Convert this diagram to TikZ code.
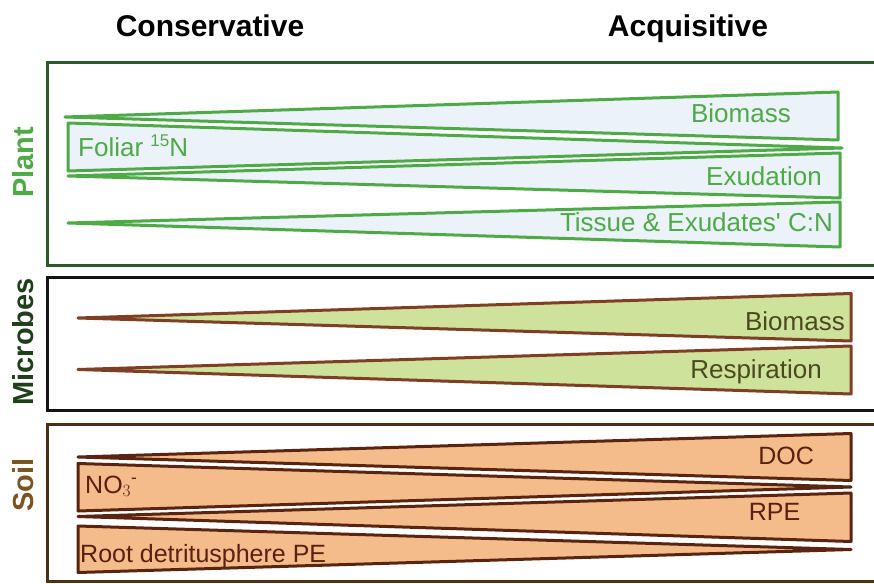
\documentclass[tikz,border=0pt]{standalone}
\usepackage{fontspec}
\setmainfont{Liberation Sans}
\definecolor{plantgreen}{HTML}{4DAA47}
\definecolor{plantdark}{HTML}{2E5A2B}
\definecolor{plantfill}{HTML}{EBF2F9}
\definecolor{microlabel}{HTML}{1F3F1A}
\definecolor{microbox}{HTML}{141414}
\definecolor{microfill}{HTML}{CEE29B}
\definecolor{microstroke}{HTML}{7E3F25}
\definecolor{microtext}{HTML}{4B4A1E}
\definecolor{soillabel}{HTML}{7A5522}
\definecolor{soilbox}{HTML}{4E2E14}
\definecolor{soilfill}{HTML}{F4BB8B}
\definecolor{soilstroke}{HTML}{5A2510}
\definecolor{soiltext}{HTML}{5A2010}
\tikzset{
  panelbox/.style={line width=3pt},
  plantwedge/.style={draw=plantgreen, fill=plantfill, line width=3pt, line join=round},
  microwedge/.style={draw=microstroke, fill=microfill, line width=3pt, line join=round},
  soilwedge/.style={draw=soilstroke, fill=soilfill, line width=3pt, line join=round},
  header/.style={font=\fontsize{30}{34}\selectfont\bfseries, anchor=base, inner sep=0pt},
  sidelabel/.style={font=\fontsize{29}{33}\selectfont\bfseries, rotate=90, anchor=base, inner sep=0pt},
  planttext/.style={font=\fontsize{26}{30}\selectfont, text=plantgreen, inner sep=0pt},
  microtxt/.style={font=\fontsize{26}{30}\selectfont, text=microtext, inner sep=0pt},
  soiltxt/.style={font=\fontsize{25}{29}\selectfont, text=soiltext, inner sep=0pt}
}
\begin{document}
\begin{tikzpicture}[x=1pt,y=-1pt]
\useasboundingbox[fill=white] (0,0) rectangle (874,583);
% panels
\begin{scope}
\clip (0,0) rectangle (874,583);
\draw[panelbox, draw=plantdark] (47,63) rectangle (900,265);
\draw[panelbox, draw=microbox] (47,277) rectangle (900,410);
\draw[panelbox, draw=soilbox] (47,424) rectangle (900,581);
\end{scope}
% headers
\node[header] (cons) at (210,36.5) {Conservative};
\node[header] (acq) at (688,36.5) {Acquisitive};
% side labels
\node[sidelabel, text=plantgreen] (plant) at (33.3,162.5) {Plant};
\node[sidelabel, text=microlabel] (microbes) at (33.3,341.7) {Microbes};
\node[sidelabel, text=soillabel] (soil) at (33.3,485) {Soil};
% plant wedges
\draw[plantwedge] (65,117) -- (838,92) -- (838,140) -- cycle;
\draw[plantwedge] (68,123) -- (842,148) -- (68,171) -- cycle;
\draw[plantwedge] (68,176) -- (840,153) -- (840,198) -- cycle;
\draw[plantwedge] (68,223) -- (840,202) -- (840,247) -- cycle;
\node[planttext, anchor=base east] (pbio) at (791,122.7) {Biomass};
\node[planttext, anchor=base west] (foliar) at (78,156) {Foliar {\fontsize{17}{20}\selectfont\raisebox{0.55em}{15}}N};
\node[planttext, anchor=base east] (exud) at (822,185) {Exudation};
\node[planttext, anchor=base east] (tissue) at (833,231.5) {Tissue \& Exudates\textquotesingle{} C:N};
% microbe wedges
\draw[microwedge] (78,318) -- (851,293.5) -- (851,341) -- cycle;
\draw[microwedge] (78,369.5) -- (851,346) -- (851,394) -- cycle;
\node[microtxt, anchor=base east] (mbio) at (845,330) {Biomass};
\node[microtxt, anchor=base east] (resp) at (822,378.5) {Respiration};
% soil wedges
\draw[soilwedge] (78,457) -- (851,433.5) -- (851,480.5) -- cycle;
\draw[soilwedge] (78,463.5) -- (851,487) -- (78,511) -- cycle;
\draw[soilwedge] (78,516.5) -- (851,493) -- (851,541.5) -- cycle;
\draw[soilwedge] (78,526) -- (851,549.5) -- (78,572.5) -- cycle;
\node[soiltxt, anchor=base east] (doc) at (814,464.5) {DOC};
\node[soiltxt, anchor=base west] (no3) at (85,493) {NO$_3$\textsuperscript{-}};
\node[soiltxt, anchor=base east] (rpe) at (800.5,520.5) {RPE};
\node[soiltxt, anchor=base west] (rootpe) at (80,562.5) {Root detritusphere PE};
\end{tikzpicture}
\end{document}
